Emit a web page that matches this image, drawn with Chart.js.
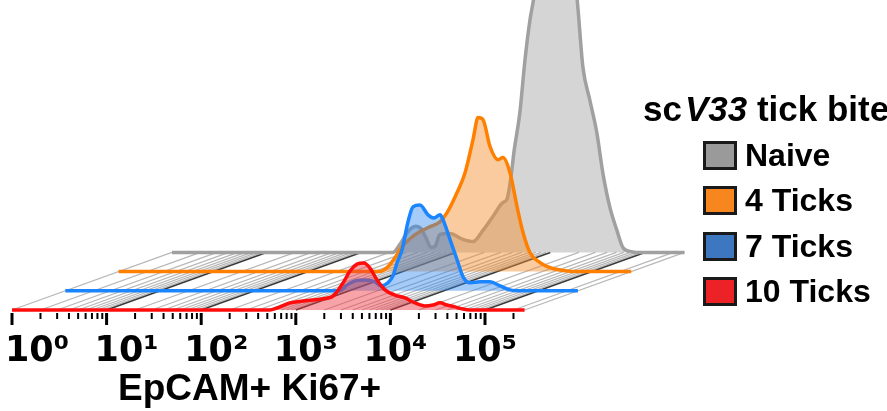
<!DOCTYPE html>
<html>
<head>
<meta charset="utf-8">
<script src="https://cdn.jsdelivr.net/npm/chart.js@4"></script>
<style>
  body { margin: 0; background: #fff; }
  #wrap { position: relative; width: 887px; height: 411px; overflow: hidden; font-family: 'Liberation Sans', Arial, sans-serif; }
  #wrap canvas { position: absolute; left: 0; top: 0; }
  .xtitle { position: absolute; left: 118px; top: 369px; font-size: 37px; font-weight: bold; line-height: 37px; white-space: nowrap; color: #000; }
  .ltitle { position: absolute; left: 643px; top: 91px; font-size: 35px; font-weight: bold; line-height: 35px; white-space: nowrap; color: #000; }
  .ltitle i { margin-left: 3px; }
  .lbox { position: absolute; left: 703px; width: 34px; height: 29px; box-sizing: border-box; border: 3px solid #1a1a1a; }
  .ltext { position: absolute; left: 745px; font-size: 32px; font-weight: bold; line-height: 29px; white-space: nowrap; color: #000; }
</style>
</head>
<body>
<div id="wrap">
  <canvas id="layer3" width="887" height="411"></canvas>
  <canvas id="layer2" width="887" height="411"></canvas>
  <canvas id="layer1" width="887" height="411"></canvas>
  <canvas id="layer0" width="887" height="411"></canvas>
  <div class="xtitle" id="xtitle"></div>
  <div class="ltitle">sc<i>V33</i> tick bite</div>
  <div id="legend"></div>
</div>
<script>
// x axis (fluorescence intensity, log)
const axisMin = 1;
const axisMax = 262144;
const decades = [1, 10, 100, 1000, 10000, 100000];
const minorSteps = [1, 2, 3, 4, 5, 6, 7, 8, 9];
const tickLabels = ['10⁰', '10¹', '10²', '10³', '10⁴', '10⁵'];
const axisTitle = 'EpCAM+ Ki67+';

// series names, back to front
const seriesNames = ['Naive', '4 Ticks', '7 Ticks', '10 Ticks'];
const legendColors = ['#9a9a9a', '#f7861e', '#3d77c0', '#ec2227'];

// histograms (x = intensity, y = % of max)
const naiveX = [1, 217, 257, 290, 328, 380, 429, 484, 547, 603, 681, 868, 1191, 1521, 1940, 2474, 3155, 3477, 3835, 4124, 4771, 5391, 6085, 6708, 7762, 9435, 11190, 13590, 16110, 19110, 22120, 26230, 31110, 35980, 42660, 50590, 58480, 69380, 80350, 262144];
const naiveY = [0, 0, 2.6, 5.2, 7.4, 8.4, 7.7, 4.8, 1.6, 1.9, 5.8, 6.1, 4.2, 3.5, 7.1, 11.6, 16.1, 17.1, 24.2, 32.3, 45.2, 61.9, 74.8, 82.3, 96.8, 119.4, 132.3, 119.4, 96.8, 82.3, 59.7, 49, 38.4, 25.5, 14.5, 7.1, 1.6, 0.3, 0, 0];

const fourX = [1, 580, 705, 836, 991, 1203, 1535, 1959, 2500, 2965, 3782, 4595, 5580, 6306, 7120, 8440, 10250, 11570, 13720, 16270, 18840, 22340, 28500, 36340, 52310, 75340, 262144];
const fourY = [0, 0, 1.6, 4.5, 8.1, 10.6, 12.9, 14.5, 16.1, 19.0, 25.5, 31.9, 42.6, 49.7, 49.0, 40.3, 36.1, 36.8, 31.9, 21.0, 12.6, 6.1, 2.9, 1.3, 0.3, 0, 0];

const sevenX = [1, 801, 951, 1155, 1472, 1878, 2174, 2576, 2911, 3208, 3626, 4197, 4736, 5615, 6823, 7891, 9141, 9833, 11670, 13840, 16020, 18990, 24220, 30880, 39410, 50250, 61080, 262144];
const sevenY = [0, 0, 1.9, 3.2, 3.5, 2.9, 1.6, 2.6, 4.8, 9.0, 13.2, 22.3, 27.1, 27.7, 24.5, 23.5, 24.5, 22.9, 16.5, 10, 4.5, 2.6, 2.9, 2.9, 1.6, 0.3, 0, 0];

const tenX = [1, 534, 681, 868, 1192, 1803, 2473, 3155, 3740, 4436, 5263, 6085, 7215, 8765, 11190, 14270, 18200, 23220, 28200, 33450, 39630, 48190, 58510, 69380, 262144];
const tenY = [0, 0, 1, 2.3, 2.9, 3.5, 4.5, 8.7, 12.6, 14.8, 15.2, 13.5, 9.7, 6.5, 4.8, 3.9, 2.3, 1.3, 1.6, 2.3, 1.6, 1, 0.3, 0, 0];

// staggered layout: each layer further back shifts right and up
const layerDX = 53.3;
const layerDY = 19.2;
const frontLeft = 12;
const plotWidth = 512.6;
const frontBaseline = 310;
const pxPerUnit = 3.1;
const yBelow = 2;            // room under the baseline so the line is not clipped
const axisBoxHeight = 411 - frontBaseline - yBelow * pxPerUnit;
// decade labels sit a little off the tick marks in the original
const labelFirst = 37;
const labelStep = 89.6;

const isDecade = v => decades.includes(v);
const gridValues = [];
decades.forEach(d => minorSteps.forEach(m => { if (d * m <= axisMax) gridValues.push(d * m); }));

// diagonal floor grid, drawn behind everything
const floorPlugin = {
  id: 'floor',
  beforeDatasetsDraw(chart) {
    const sc = chart.scales.x;
    const ctx = chart.ctx;
    const yb = chart.scales.y.getPixelForValue(0);
    const yf = yb + 3 * layerDY;
    ctx.save();
    gridValues.concat([axisMax]).forEach(v => {
      const xb = sc.getPixelForValue(v);
      const xf = xb - 3 * layerDX;
      const dark = isDecade(v) && v > 1;
      ctx.strokeStyle = dark ? '#3a3a3a' : '#b8b8b8';
      ctx.lineWidth = dark ? 1.6 : 1.3;
      ctx.beginPath();
      ctx.moveTo(xf, yf);
      ctx.lineTo(xb, yb);
      ctx.stroke();
    });
    ctx.restore();
  }
};

// tick marks under the front axis
const tickPlugin = {
  id: 'tickMarks',
  afterDraw(chart) {
    const sc = chart.scales.x;
    const ctx = chart.ctx;
    const y0 = chart.scales.y.getPixelForValue(0) + 3;
    ctx.save();
    ctx.strokeStyle = '#000';
    gridValues.forEach(v => {
      const x = sc.getPixelForValue(v);
      const major = isDecade(v);
      ctx.lineWidth = major ? 3 : 2;
      ctx.beginPath();
      ctx.moveTo(x, y0);
      ctx.lineTo(x, y0 + (major ? 12 : 6));
      ctx.stroke();
    });
    ctx.restore();
  }
};

function makeLayer(k, canvasId, xs, ys, lineColor, fillColor, plugins) {
  const front = k === 0;
  const textColor = front ? '#000' : 'transparent';
  const expMin = -(labelFirst - frontLeft) / labelStep;
  return new Chart(document.getElementById(canvasId), {
    type: 'line',
    data: {
      datasets: [{
        xAxisID: 'x',
        data: xs.map((x, i) => ({ x: x, y: ys[i] })),
        borderColor: lineColor,
        backgroundColor: fillColor,
        borderWidth: 3.5,
        fill: 'origin',
        pointRadius: 0,
        tension: 0.35,
        cubicInterpolationMode: 'monotone',
        clip: false
      }]
    },
    options: {
      responsive: false,
      animation: false,
      layout: {
        padding: {
          left: frontLeft + k * layerDX,
          right: 887 - frontLeft - plotWidth - k * layerDX,
          top: 0,
          bottom: k * layerDY
        }
      },
      plugins: { legend: { display: false }, tooltip: { enabled: false } },
      scales: {
        x: {
          type: 'logarithmic',
          display: false,
          min: axisMin,
          max: axisMax
        },
        xLabels: {
          type: 'linear',
          position: 'bottom',
          min: expMin,
          max: expMin + plotWidth / labelStep,
          afterFit: scale => { scale.height = axisBoxHeight; },
          grid: { drawOnChartArea: false, drawTicks: true, tickLength: 19 - yBelow * pxPerUnit, color: 'transparent' },
          border: { display: false },
          ticks: {
            stepSize: 1,
            includeBounds: false,
            autoSkip: false,
            maxRotation: 0,
            minRotation: 0,
            padding: 2,
            color: textColor,
            font: { family: "'DejaVu Sans', sans-serif", size: 35, weight: 'bold' },
            callback: value => tickLabels[value] ?? ''
          }
        },
        y: {
          display: false,
          min: -yBelow,
          max: (frontBaseline - k * layerDY) / pxPerUnit
        }
      }
    },
    plugins: plugins
  });
}

makeLayer(3, 'layer3', naiveX, naiveY, '#a0a0a0', 'rgba(150,150,150,0.4)', [floorPlugin]);
makeLayer(2, 'layer2', fourX, fourY, '#ff8000', 'rgba(245,140,40,0.45)', []);
makeLayer(1, 'layer1', sevenX, sevenY, '#1a85ff', 'rgba(40,130,240,0.42)', []);
makeLayer(0, 'layer0', tenX, tenY, '#ff0d0d', 'rgba(240,50,60,0.45)', [tickPlugin]);

document.getElementById('xtitle').textContent = axisTitle;

// legend
const legendTops = [140.5, 186, 231.5, 277];
const legend = document.getElementById('legend');
seriesNames.forEach((name, i) => {
  const box = document.createElement('div');
  box.className = 'lbox';
  box.style.top = legendTops[i] + 'px';
  box.style.background = legendColors[i];
  legend.appendChild(box);
  const txt = document.createElement('div');
  txt.className = 'ltext';
  txt.style.top = legendTops[i] + 'px';
  txt.textContent = name;
  legend.appendChild(txt);
});
</script>
</body>
</html>
